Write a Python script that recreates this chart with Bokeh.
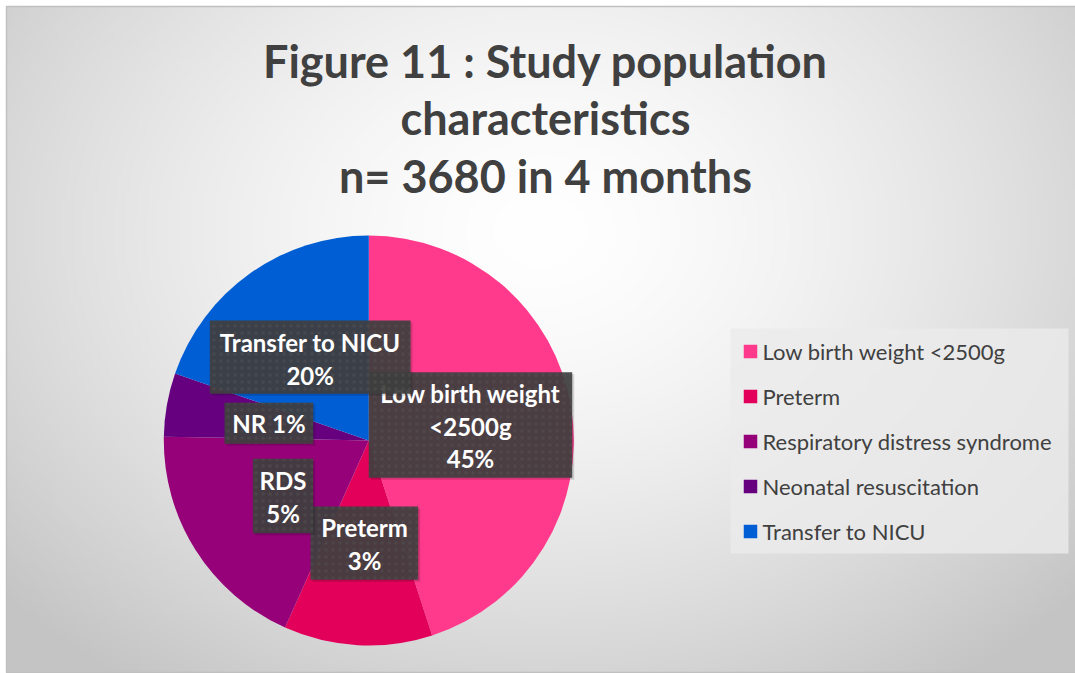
import numpy as np
from bokeh.plotting import figure
from bokeh.models import Range1d
from bokeh.core.properties import value
from bokeh.embed import file_html
from bokeh.resources import INLINE

# ---------------- data ----------------
categories = ["Low birth weight <2500g", "Preterm", "Respiratory distress syndrome",
              "Neonatal resuscitation", "Transfer to NICU"]
shares = [45.0, 11.7, 18.6, 5.0, 19.7]          # slice sizes as drawn
label_lines = [["Low birth weight", "<2500g", "45%"],
               ["Preterm", "3%"],
               ["RDS", "5%"],
               ["NR 1%"],
               ["Transfer to NICU", "20%"]]
colors = ["#FF3A8C", "#E3005A", "#960078", "#66007F", "#005ED4"]
title_lines = ["Figure 11 : Study population", "characteristics", "n= 3680 in 4 months"]

# ---------------- layout (screen pixels) ----------------
W, H = 1075, 673
def X(xs):
    return xs
def Y(ys):
    return H - ys

chart_box = (6, 6, 1075, 672)
pie_cx, pie_cy, pie_r = 368.3, 440.0, 205.0
# label boxes: left, top, right, bottom, center x, line y's
label_boxes = [
    (368.3, 371.7, 571.7, 477.3, 470.0, [393, 425.5, 458]),
    (310.0, 506.0, 417.7, 579.3, 364.0, [527, 560]),
    (252.3, 458.3, 312.7, 532.7, 282.5, [480, 513]),
    (224.0, 402.3, 312.7, 443.3, 268.4, [423]),
    (209.3, 320.0, 410.0, 393.3, 309.7, [341.7, 375]),
]
title_y = [60, 117, 175]
title_x = 545
legend_box = (730, 328, 1068, 553)
legend_y = [351, 396, 441, 486, 531]

FONT = "Lato"

p = figure(width=W, height=H, x_range=Range1d(0, W), y_range=Range1d(0, H),
           output_backend="svg", toolbar_location=None, min_border=0,
           background_fill_color="white", border_fill_color="white")
p.axis.visible = False
p.grid.visible = False
p.outline_line_color = None

# background radial gradient inside the chart area
cx0, cy0, cx1, cy1 = chart_box
gw, gh = 270, 168
xs = np.linspace(cx0, cx1, gw)
ys = np.linspace(cy1, cy0, gh)   # row 0 = bottom
SX, SY = np.meshgrid(xs, ys)
d = np.sqrt(((SX - 540) / 620.0) ** 2 + ((SY - 230) / 480.0) ** 2)
v = np.clip(255 - 47 * d ** 1.5, 196, 255).astype(np.uint8)
img = np.empty((gh, gw), dtype=np.uint32)
view = img.view(dtype=np.uint8).reshape((gh, gw, 4))
view[..., 0] = v
view[..., 1] = v
view[..., 2] = v
view[..., 3] = 255
p.image_rgba(image=[img], x=X(cx0), y=Y(cy1), dw=cx1 - cx0, dh=cy1 - cy0)
p.quad(left=X(cx0), right=X(cx1) + 2, top=Y(cy0), bottom=Y(cy1),
       fill_color=None, line_color="#c0c0c0", line_width=1.5)

# pie
frac = np.array(shares) / np.sum(shares)
cum = np.concatenate([[0], np.cumsum(frac)])
starts = np.pi / 2 - 2 * np.pi * cum[:-1]
ends = np.pi / 2 - 2 * np.pi * cum[1:]
p.wedge(x=X(pie_cx), y=Y(pie_cy), radius=pie_r, start_angle=starts, end_angle=ends,
        direction="clock", fill_color=colors, line_color=None)

# data labels
for lines, (l, t, r, b, cx, lys) in zip(label_lines, label_boxes):
    p.quad(left=X(l) + 2, right=X(r) + 2, top=Y(t) - 2, bottom=Y(b) - 2,
           fill_color="black", fill_alpha=0.15, line_color=None)
    p.quad(left=X(l), right=X(r), top=Y(t), bottom=Y(b),
           fill_color="#3f3f3f", fill_alpha=0.93, line_color=None,
           hatch_pattern="dot", hatch_color="#555555", hatch_scale=7, hatch_alpha=0.4)
    p.text(x=[X(cx)] * len(lines), y=[Y(yy) for yy in lys], text=lines,
           text_font=value(FONT), text_font_style="bold", text_font_size="24px",
           text_color="white", text_align="center", text_baseline="middle")

# title
p.text(x=[X(title_x)] * 3, y=[Y(yy) for yy in title_y], text=title_lines,
       text_font=value(FONT), text_font_style="bold", text_font_size="45px",
       text_color="#404040", text_align="center", text_baseline="middle")

# legend
lx0, ly0, lx1, ly1 = legend_box
p.quad(left=X(lx0), right=X(lx1), top=Y(ly0), bottom=Y(ly1),
       fill_color="#ebebeb", fill_alpha=0.8, line_color=None)
p.rect(x=[X(750)] * 5, y=[Y(yy) for yy in legend_y], width=13.5, height=13.5,
       fill_color=colors, line_color=None)
p.text(x=[X(762)] * 5, y=[Y(yy) for yy in legend_y], text=categories,
       text_font=value(FONT), text_font_size="22px", text_color="#404040",
       text_align="left", text_baseline="middle")

open("out.html", "w").write(file_html(p, INLINE))
